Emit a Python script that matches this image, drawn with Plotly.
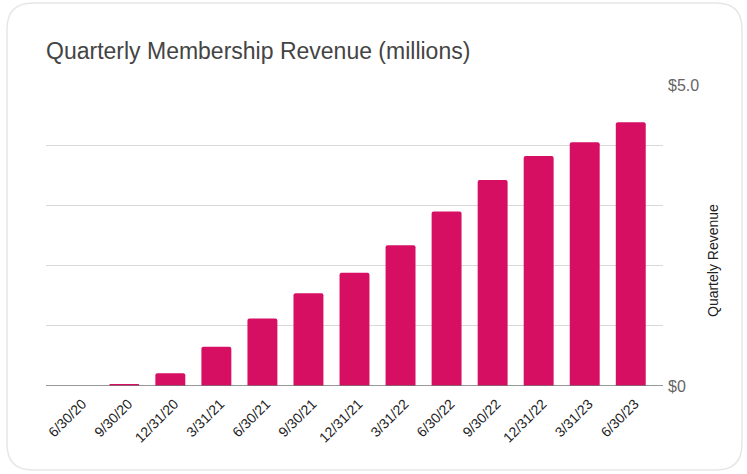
import plotly.graph_objects as go

# Quarter-end dates and membership revenue in millions of dollars
quarters = ["6/30/20", "9/30/20", "12/31/20", "3/31/21", "6/30/21", "9/30/21",
            "12/31/21", "3/31/22", "6/30/22", "9/30/22", "12/31/22", "3/31/23", "6/30/23"]
revenue = [0.0, 0.03, 0.21, 0.65, 1.12, 1.54, 1.88, 2.34, 2.90, 3.42, 3.82, 4.05, 4.38]

y_ticks = [0, 1, 2, 3, 4, 5]
y_tick_text = ["$0", "", "", "", "", "$5.0"]

W, H = 747, 474
ML, MR, MT, MB = 46, 84, 85, 88
PW, PH = W - ML - MR, H - MT - MB


def px(x):
    return (x - ML) / PW


def py(y):
    return (H - MB - y) / PH


# rounded card outline around the chart, expressed in paper units
x0, x1, y0, y1, r = 7, 742, 3, 470, 26
card = (
    f"M {px(x0 + r)},{py(y0)} L {px(x1 - r)},{py(y0)} "
    f"Q {px(x1)},{py(y0)} {px(x1)},{py(y0 + r)} "
    f"L {px(x1)},{py(y1 - r)} Q {px(x1)},{py(y1)} {px(x1 - r)},{py(y1)} "
    f"L {px(x0 + r)},{py(y1)} Q {px(x0)},{py(y1)} {px(x0)},{py(y1 - r)} "
    f"L {px(x0)},{py(y0 + r)} Q {px(x0)},{py(y0)} {px(x0 + r)},{py(y0)} Z"
)

fig = go.Figure(
    go.Bar(
        x=quarters,
        y=revenue,
        marker=dict(color="#d60f63", cornerradius=2, line=dict(width=0)),
        hovertemplate="%{x}: $%{y:.2f}M<extra></extra>",
    )
)

fig.update_layout(
    width=W,
    height=H,
    margin=dict(l=ML, r=MR, t=MT, b=MB),
    paper_bgcolor="white",
    plot_bgcolor="white",
    bargap=0.35,
    showlegend=False,
    font=dict(family="Liberation Sans, Arial, sans-serif", color="#222222"),
    title=dict(
        text="Quarterly Membership Revenue (millions)",
        x=0, xref="paper", xanchor="left",
        y=1 - 51 / H, yref="container", yanchor="middle",
        font=dict(size=23, color="#444444"),
    ),
    shapes=[
        dict(type="path", path=card, xref="paper", yref="paper",
             line=dict(color="#e6e6e6", width=1.5), fillcolor="rgba(0,0,0,0)",
             layer="below"),
        dict(type="line", xref="paper", yref="y", x0=0, x1=1, y0=0, y1=0,
             line=dict(color="#777777", width=1.5)),
    ],
    annotations=[
        dict(text="Quartely Revenue", textangle=-90, showarrow=False,
             xref="paper", yref="paper", x=px(713), y=py(261),
             xanchor="center", yanchor="middle",
             font=dict(size=14, color="#222222")),
    ],
)

fig.update_xaxes(
    range=[-0.7, 12.7],
    tickangle=-45,
    tickfont=dict(size=14, color="#222222"),
    ticklabelstandoff=6,
    ticklabelshift=4,
    showgrid=False,
    showline=False,
    ticks="",
    automargin=False,
)

fig.update_yaxes(
    side="right",
    range=[0, 5],
    tickvals=y_ticks,
    ticktext=y_tick_text,
    tickfont=dict(size=16, color="#666666"),
    ticklabelstandoff=4,
    showgrid=True,
    gridcolor="#d9d9d9",
    gridwidth=1,
    zeroline=False,
    showline=False,
    ticks="",
    automargin=False,
)

fig.write_html("out.html")
